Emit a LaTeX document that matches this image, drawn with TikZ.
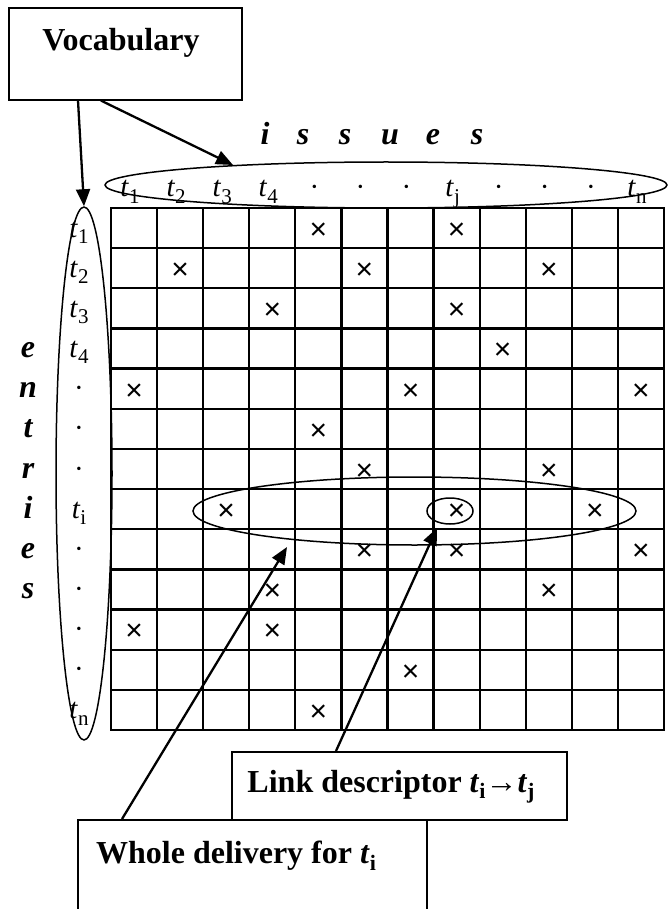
\documentclass[tikz,border=0pt]{standalone}
\usepackage{fontspec}
\setmainfont{Liberation Serif}
\newfontfamily\crossfont{Liberation Sans}
\usetikzlibrary{shapes.geometric,arrows.meta,calc}
\newcommand{\tsub}[1]{\textit{t}\raisebox{-0.22em}{\fontsize{21}{21}\selectfont #1}}
\newcommand{\bsub}[1]{\textbf{\textit{t}}\raisebox{-0.2em}{\fontsize{22}{22}\selectfont\bfseries #1}}
\newcommand{\mdot}{\textperiodcentered}
\begin{document}
\begin{tikzpicture}[x=1pt,y=-1pt,
  box/.style={draw,line width=1.6pt,inner sep=0pt,anchor=north west},
  lbl/.style={font=\fontsize{32}{32}\selectfont\bfseries,inner sep=0pt},
  ttl/.style={font=\fontsize{32}{32}\selectfont\bfseries\itshape,anchor=base,inner sep=0pt},
  tl/.style={font=\fontsize{29}{29}\selectfont,anchor=base,inner sep=0pt},
  xm/.style={font=\crossfont\fontsize{30}{30}\selectfont,inner sep=0pt},
  ell/.style={draw,ellipse,line width=1.5pt,inner sep=0pt},
  arr/.style={line width=2.3pt,-{Triangle[length=17pt,width=14pt]}},
  gridln/.style={line width=2.3pt,line cap=rect}]
\useasboundingbox (0,0) rectangle (668,909);
\clip (0,0) rectangle (668,909);
% grid
\foreach \i in {0,...,12} \draw[gridln] ({111+\i*46.0833},208) -- ({111+\i*46.0833},730);
\foreach \j in {0,...,13} \draw[gridln] (111,{208+\j*40.154}) -- (664,{208+\j*40.154});
% crosses
\foreach \r/\c in {1/5,1/8,2/2,2/6,2/10,3/4,3/8,4/9,5/1,5/7,5/12,6/5,7/6,7/10,8/3,8/8,8/11,9/6,9/8,9/12,10/4,10/10,11/1,11/4,12/7,13/5}
  \node[xm] (x\r-\c) at ({111+(\c-0.5)*46.0833},{208+(\r-0.5)*40.154+3}) {×};
% row labels
\foreach \r/\t in {1/\tsub{1},2/\tsub{2},3/\tsub{3},4/\tsub{4},5/\mdot,6/\mdot,7/\mdot,8/\tsub{i},9/\mdot,10/\mdot,11/\mdot,12/\mdot,13/\tsub{n}}
  \node[tl] (r\r) at (79,{208+(\r-0.5)*40.154+9}) {\t};
% column labels
\foreach \c/\t in {1/\tsub{1},2/\tsub{2},3/\tsub{3},4/\tsub{4},5/\mdot,6/\mdot,7/\mdot,8/\tsub{j},9/\mdot,10/\mdot,11/\mdot,12/\tsub{n}}
  \node[tl] (c\c) at ({111+(\c-0.5)*46.0833-4},197) {\t};
% issues
\foreach \x/\l [count=\k] in {265/i,303/s,345/s,390/u,433/e,477/s}
  \node[ttl] (iss\k) at (\x,145) {\l};
% entries
\foreach \l [count=\k] in {e,n,t,r,i,e,s}
  \node[ttl] (ent\k) at (28,{208+(\k+2.5)*40.154+9}) {\l};
% ellipses
\node[ell,minimum width=562,minimum height=46] (colell) at (386,185) {};
\node[ell,minimum width=56,minimum height=533] (rowell) at (84,473.5) {};
\node[ell,minimum width=443,minimum height=68] (tiell) at (414.5,511) {};
\node[ell,minimum width=46,minimum height=26] (cellell) at (450,511) {};
% boxes
\node[box,minimum width=233,minimum height=92] (vocab) at (8,7) {};
\node[lbl] (vocabtxt) at (121,43) {Vocabulary};
\node[box,minimum width=335,minimum height=68] (link) at (231,751) {};
\node[lbl] (linktxt) at (391,787) {Link descriptor \bsub{i}→\bsub{j}};
\node[box,minimum width=349,minimum height=130] (whole) at (77,819) {};
\node[lbl] (wholetxt) at (236,856) {Whole delivery for \bsub{i}};
% arrows
\coordinate (coltip) at (233,165);
\coordinate (wtip) at (287,547);
\coordinate (ltip) at (437,528);
\draw[arr] ([xshift=70]vocab.south west) -- (rowell.north);
\draw[arr] ([xshift=93]vocab.south west) -- (coltip);
\draw[arr] ([xshift=45]whole.north west) -- (wtip);
\draw[arr] ([xshift=105]link.north west) -- (ltip);
\end{tikzpicture}
\end{document}
